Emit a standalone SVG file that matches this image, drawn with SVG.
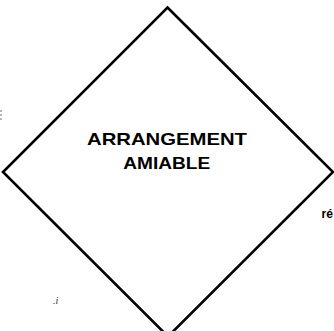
<svg xmlns="http://www.w3.org/2000/svg" width="334" height="331" viewBox="0 0 334 331">
  <style>
    .shape { fill: #ffffff; stroke: #000000; stroke-width: 2.6; stroke-linejoin: miter; }
    .label { font-family: "Liberation Sans", Arial, sans-serif; font-weight: bold; fill: #000000; text-anchor: middle; }
    .side { font-family: "Liberation Sans", Arial, sans-serif; font-weight: bold; fill: #000000; }
    .speck { font-family: "Liberation Serif", serif; font-style: italic; fill: #333333; }
  </style>
  <rect width="334" height="331" fill="#ffffff"/>
  <g id="connectors"></g>
  <g id="node-arrangement-amiable">
    <polygon class="shape" points="167.5,7.5 333,172 168,336.5 3,172"/>
    <text class="label" x="167" y="145" font-size="17" textLength="160" lengthAdjust="spacingAndGlyphs">ARRANGEMENT</text>
    <text class="label" x="166.7" y="169.3" font-size="17" textLength="87" lengthAdjust="spacingAndGlyphs">AMIABLE</text>
  </g>
  <g id="fragment-right">
    <text class="side" x="321.5" y="217.5" font-size="12">ré</text>
  </g>
  <g id="fragment-left">
    <line x1="1" y1="110" x2="1" y2="122" stroke="#888888" stroke-width="1.2" stroke-dasharray="2,2"/>
    <text class="speck" x="53" y="304" font-size="10">.i</text>
  </g>
</svg>
